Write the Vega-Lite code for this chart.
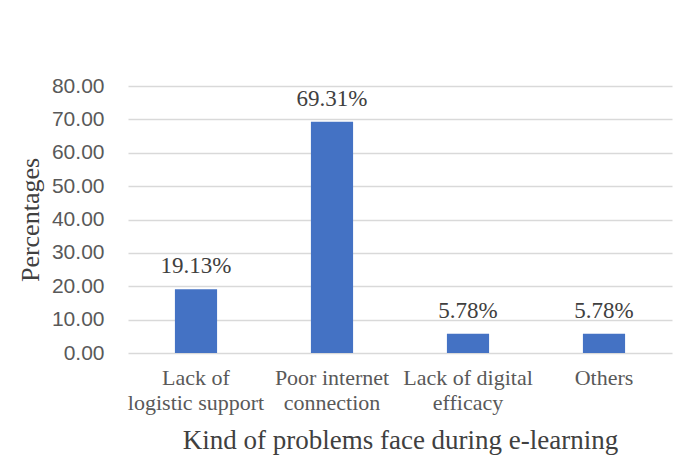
{
  "$schema": "https://vega.github.io/schema/vega-lite/v6.json",
  "width": 544,
  "height": 267,
  "autosize": "none",
  "padding": {"left": 128, "top": 86, "right": 7, "bottom": 113},
  "background": "white",
  "config": {"view": {"stroke": null}},
  "data": {
    "values": [
      {"problem": "Lack of logistic support", "pct": 19.13, "label": "19.13%"},
      {"problem": "Poor internet connection", "pct": 69.31, "label": "69.31%"},
      {"problem": "Lack of digital efficacy", "pct": 5.78, "label": "5.78%"},
      {"problem": "Others", "pct": 5.78, "label": "5.78%"}
    ]
  },
  "encoding": {
    "x": {
      "field": "problem",
      "type": "nominal",
      "sort": null,
      "scale": {"paddingInner": 0.69, "paddingOuter": 0.345},
      "axis": {
        "title": "Kind of problems face during e-learning",
        "titleFont": "Liberation Serif",
        "titleFontSize": 27,
        "titleFontWeight": "normal",
        "titleColor": "#404040",
        "titlePadding": 14,
        "labelExpr": "datum.value == 'Lack of logistic support' ? ['Lack of', 'logistic support'] : datum.value == 'Poor internet connection' ? ['Poor internet', 'connection'] : datum.value == 'Lack of digital efficacy' ? ['Lack of digital', 'efficacy'] : datum.value",
        "labelAngle": 0,
        "labelFont": "Liberation Serif",
        "labelFontSize": 22,
        "labelColor": "#595959",
        "labelLineHeight": 25,
        "labelPadding": 14,
        "ticks": false,
        "domain": false
      }
    },
    "y": {
      "field": "pct",
      "type": "quantitative",
      "scale": {"domain": [0, 80], "nice": false},
      "axis": {
        "title": "Percentages",
        "titleFont": "Liberation Serif",
        "titleFontSize": 26,
        "titleFontWeight": "normal",
        "titleColor": "#404040",
        "titlePadding": 8,
        "values": [0, 10, 20, 30, 40, 50, 60, 70, 80],
        "format": ".2f",
        "labelFont": "Liberation Sans",
        "labelFontSize": 21,
        "labelColor": "#595959",
        "labelPadding": 24,
        "ticks": false,
        "tickSize": 0,
        "domain": false,
        "gridColor": "#D9D9D9",
        "gridWidth": 1.3
      }
    }
  },
  "layer": [
    {"mark": {"type": "bar", "color": "#4472C4"}},
    {
      "mark": {"type": "text", "dy": -16, "baseline": "alphabetic", "font": "Liberation Serif", "fontSize": 23, "color": "#404040"},
      "encoding": {"text": {"field": "label", "type": "nominal"}}
    }
  ]
}
